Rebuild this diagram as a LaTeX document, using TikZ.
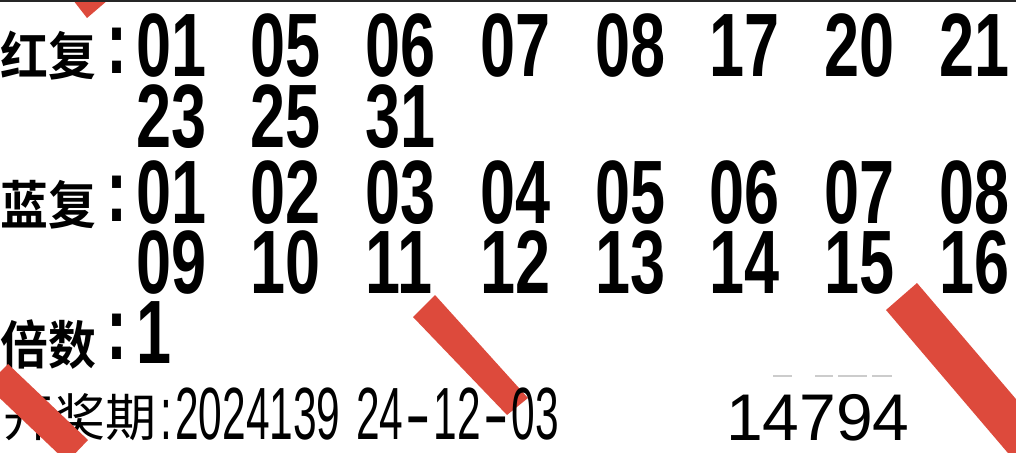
\documentclass[tikz,border=0pt]{standalone}
\usepackage{fontspec}
\newfontfamily\digB[FakeStretch=0.70]{Liberation Sans Bold}
\newfontfamily\digR[FakeStretch=0.574]{Liberation Sans}
\newfontfamily\plain{Liberation Sans}
\newfontfamily\cjkB[FakeStretch=0.92]{Noto Sans CJK SC Bold}
\newfontfamily\cjkR{Noto Sans CJK SC}
\definecolor{barred}{RGB}{221,74,60}
\newcommand{\dsh}{\hspace*{2.5pt}\scalebox{1.8}[1]{-}\hspace*{2.5pt}}
\begin{document}
\begin{tikzpicture}[x=1pt,y=-1pt,
  num/.style={font=\digB\fontsize{90}{90}\selectfont,anchor=base west,inner sep=0pt},
  lab/.style={font=\cjkB\fontsize{52}{52}\selectfont,anchor=base west,inner sep=0pt},
  colon/.style={font=\digB\fontsize{90}{90}\selectfont,anchor=base west,inner sep=0pt},
  small/.style={font=\digR\fontsize{74}{74}\selectfont,anchor=base west,inner sep=0pt},
  smalllab/.style={font=\cjkR\fontsize{51}{51}\selectfont,anchor=base west,inner sep=0pt},
  bar/.style={fill=barred,draw=none}]
\useasboundingbox (0,0) rectangle (1016,452);
\fill[white] (0,0) rectangle (1016,452);
% middle bar (under text)
\fill[bar] (413,317) -- (435,295) -- (528,398) -- (507,415) -- cycle;
% labels
\node[lab] (l1) at (0,75) {红复};
\node[colon] (c1) at (106,74) {:};
\node[lab] (l3) at (0,224) {蓝复};
\node[colon] (c3) at (106,221) {:};
\node[lab] (l5) at (0,364) {倍数};
\node[colon] (c5) at (106,359) {:};
% row 1
\foreach \t [count=\i from 0] in {01,05,06,07,08,17,20,21}
  \node[num] (r1n\i) at (136+114.7*\i,77) {\t};
% row 2
\foreach \t [count=\i from 0] in {23,25,31}
  \node[num] (r2n\i) at (136+114.7*\i,147) {\t};
% row 3
\foreach \t [count=\i from 0] in {01,02,03,04,05,06,07,08}
  \node[num] (r3n\i) at (136+114.7*\i,223) {\t};
% row 4
\foreach \t [count=\i from 0] in {09,10,11,12,13,14,15,16}
  \node[num] (r4n\i) at (136+114.7*\i,293) {\t};
% multiplier
\node[num] (mult) at (136,363) {1};
% draw line
\node[smalllab] (kj) at (3,436) {开奖期};
\node[small] (kc) at (160,439) {:};
\node[small] (issue) at (175,439) {2024139};
\node[small] (date) at (356,439) {24\dsh12\dsh03};
% code
\node[font=\plain\fontsize{66}{66}\selectfont,anchor=base west,inner sep=0pt] (code) at (726,440) {14794};
% faint dashes
\draw[black!20,line width=1.5pt] (773,376) -- (792,376) (815,376) -- (833,376) (838,376) -- (867,376) (872,376) -- (892,376);
% red bars over text
\fill[bar] (0,372) -- (8,364) -- (88,440) -- (67,462) -- (-13,386) -- cycle;
\fill[bar] (886,310) -- (917,283) -- (1079,473) -- (1048,500) -- cycle;
\fill[bar] (73,0) -- (108,0) -- (87,18) -- cycle;
% top edge
\fill[black!85] (0,0) rectangle (1016,2);
\end{tikzpicture}
\end{document}
